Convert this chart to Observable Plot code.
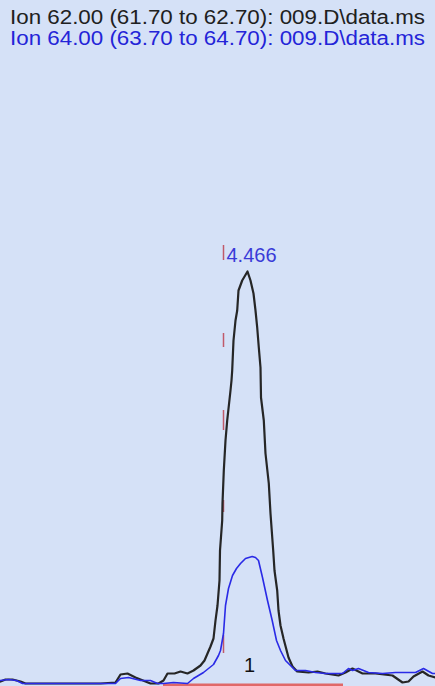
<!DOCTYPE html>
<html>
<head>
<meta charset="utf-8">
<script src="https://cdn.jsdelivr.net/npm/d3@7"></script>
<script src="https://cdn.jsdelivr.net/npm/@observablehq/plot@0.6"></script>
<style>
  html, body { margin: 0; padding: 0; background: #d5e1f7; }
  #wrap { position: relative; width: 435px; height: 686px; background: #d5e1f7; overflow: hidden; }
  #hdr { position: absolute; left: 10px; top: 7px; font-family: "Liberation Sans", Arial, sans-serif; font-size: 20px; line-height: 21px; white-space: nowrap; transform-origin: 0 0; }
  #chart { position: absolute; left: 0; top: 0; }
</style>
</head>
<body>
<div id="wrap"><div id="chart"></div><div id="hdr"></div></div>
<script>
// Header lines (trace descriptions)
const headerLines = [
  "Ion  62.00 (61.70 to 62.70): 009.D\\data.ms",
  "Ion  64.00 (63.70 to 64.70): 009.D\\data.ms"
];
const headerColors = ["#202020", "#2424d8"];

// Ion 62 trace (black): retention time (min) and abundance
const ion62Time = [
  4.219, 4.224, 4.231, 4.239, 4.244, 4.279, 4.319, 4.334, 4.339, 4.346,
  4.354, 4.364, 4.369, 4.377, 4.382, 4.386, 4.393, 4.399, 4.406, 4.412,
  4.419, 4.423, 4.426, 4.429, 4.432, 4.434, 4.436, 4.438, 4.4385, 4.4407,
  4.441, 4.4423, 4.444, 4.4457, 4.449, 4.450, 4.4507, 4.452, 4.454, 4.4557,
  4.457, 4.4607, 4.466, 4.469, 4.472, 4.474, 4.4757, 4.4773, 4.479, 4.4795,
  4.4823, 4.484, 4.4873, 4.489, 4.4917, 4.493, 4.4957, 4.497, 4.499, 4.502,
  4.507, 4.511, 4.5157, 4.527, 4.536, 4.544, 4.557, 4.564, 4.571, 4.581,
  4.594, 4.611, 4.621, 4.627, 4.632, 4.641, 4.647, 4.654
];
const ion62Abund = [
  50, 100, 100, 50, 0, 0, 0, 25, 225, 250,
  150, 50, 0, 0, 75, 250, 250, 300, 250, 325,
  450, 575, 750, 925, 1125, 1575, 1950, 2575, 3325, 4075,
  4500, 5325, 6075, 6575, 7325, 7575, 7825, 8575, 9075, 9325,
  9825, 10075, 10300, 10075, 9750, 9325, 8900, 8400, 7900, 7150,
  6575, 5750, 5000, 4250, 3325, 2825, 2325, 1825, 1450, 1125,
  650, 425, 300, 275, 300, 250, 200, 275, 375, 250,
  250, 200, 25, 50, 175, 300, 200, 150
];

// Ion 64 trace (blue)
const ion64Time = [
  4.219, 4.227, 4.235, 4.241, 4.334, 4.339, 4.347, 4.359, 4.369, 4.376,
  4.382, 4.392, 4.406, 4.412, 4.422, 4.432, 4.437, 4.439, 4.442, 4.444,
  4.447, 4.451, 4.455, 4.459, 4.464, 4.4707, 4.474, 4.477, 4.481, 4.486,
  4.4907, 4.495, 4.499, 4.504, 4.509, 4.514, 4.524, 4.534, 4.544, 4.561,
  4.567, 4.571, 4.577, 4.587, 4.601, 4.614, 4.624, 4.634, 4.642, 4.651,
  4.654
];
const ion64Abund = [
  75, 100, 75, 0, 0, 125, 150, 75, 75, 0,
  0, 25, 0, 125, 275, 475, 700, 825, 1250, 1950,
  2375, 2700, 2875, 3000, 3125, 3175, 3150, 3075, 2650, 2075,
  1575, 1075, 825, 575, 450, 325, 325, 275, 250, 250,
  375, 325, 375, 275, 250, 275, 275, 275, 375, 250,
  250
];

// Peak annotation
const peakTimes = [4.466];
const peakLabels = ["4.466"];
const peakNumbers = ["1"];

// Integration baseline (start, end) and event tick marks
const integStart = [4.382];
const integEnd = [4.562];
const tickTime = [4.442, 4.442, 4.442, 4.442, 4.442];
const tickLow = [10575, 8400, 6325, 4275, 750];
const tickHigh = [10950, 8750, 6825, 4575, 1200];

const ion62 = ion62Time.map((t, i) => ({time: t, abund: ion62Abund[i]}));
const ion64 = ion64Time.map((t, i) => ({time: t, abund: ion64Abund[i]}));
const peaks = peakTimes.map((t, i) => ({time: t, label: peakLabels[i], num: peakNumbers[i], apex: d3.max(ion62, d => d.abund)}));
const integ = integStart.map((s, i) => ({x1: s, x2: integEnd[i]}));
const ticks = tickTime.map((t, i) => ({time: t, y1: tickLow[i], y2: tickHigh[i]}));

const chart = Plot.plot({
  width: 435,
  height: 686,
  marginLeft: 0,
  marginRight: 0,
  marginTop: 83,
  marginBottom: 3,
  style: {background: "transparent", overflow: "visible"},
  x: {domain: [4.219, 4.654], axis: null},
  y: {domain: [0, 15000], axis: null},
  marks: [
    Plot.ruleY(integ, {y: 0, x1: "x1", x2: "x2", stroke: "#e06868", strokeWidth: 3, dy: 1.5}),
    Plot.ruleX(ticks, {x: "time", y1: "y1", y2: "y2", stroke: "#c05a6a", strokeWidth: 1.5}),
    Plot.line(ion62, {x: "time", y: "abund", stroke: "#262626", strokeWidth: 2.2}),
    Plot.line(ion64, {x: "time", y: "abund", stroke: "#2a2ae6", strokeWidth: 1.6}),
    Plot.text(peaks, {x: "time", y: "apex", text: "label", dy: -16, dx: 4, fill: "#3a3ad8", fontSize: 20, fontFamily: "Liberation Sans, Arial, sans-serif", lineAnchor: "middle"}),
    Plot.text(peaks, {x: "time", y: 0, text: "num", dy: -18, dx: 2, fill: "#111", fontSize: 20, fontFamily: "Liberation Sans, Arial, sans-serif", lineAnchor: "middle"})
  ]
});
document.getElementById("chart").appendChild(chart);

const hdr = document.getElementById("hdr");
headerLines.forEach((s, i) => {
  const div = document.createElement("div");
  div.textContent = s;
  div.style.color = headerColors[i];
  hdr.appendChild(div);
});
// fit header to the width seen in the reference
const w = hdr.getBoundingClientRect().width;
const target = 415;
hdr.style.transform = `scaleX(${target / w})`;
</script>
</body>
</html>
